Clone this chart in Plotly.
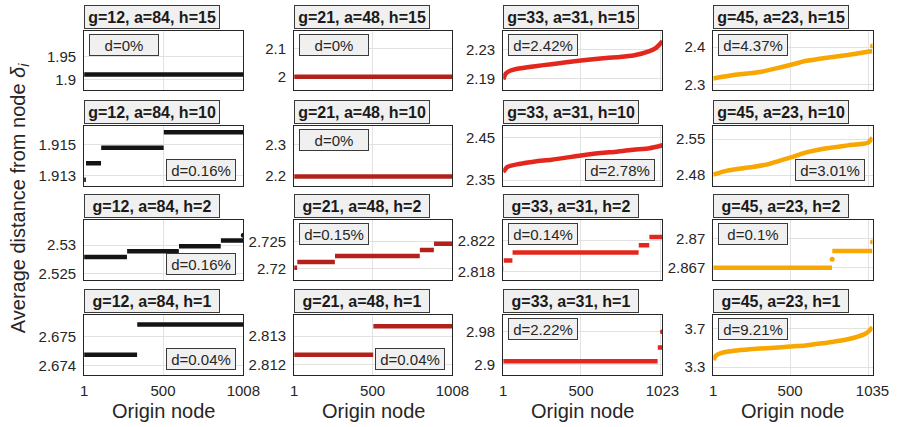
import plotly.graph_objects as go

W, H = 911, 427

# ---------------- data ----------------
col_labels = ["g=12, a=84", "g=21, a=48", "g=33, a=31", "g=45, a=23"]
h_values = [15, 10, 2, 1]
n_nodes = [1008, 1008, 1023, 1035]
x_tick_vals = [1, 500]
x_grid_extra = [1008]
colors = ["#141414", "#b2221b", "#e3271d", "#f7a700"]

d_labels = [["d=0%", "d=0%", "d=2.42%", "d=4.37%"],
            ["d=0.16%", "d=0%", "d=2.78%", "d=3.01%"],
            ["d=0.16%", "d=0.15%", "d=0.14%", "d=0.1%"],
            ["d=0.04%", "d=0.04%", "d=2.22%", "d=9.21%"]]

# y tick labels per panel (row = h, col = g)
ytick_r1 = [["1.9", "1.95"], ["2", "2.1"], ["2.19", "2.23"], ["2.3", "2.4"]]
ytick_r2 = [["1.913", "1.915"], ["2.2", "2.3"], ["2.35", "2.45"], ["2.48", "2.55"]]
ytick_r3 = [["2.525", "2.53"], ["2.72", "2.725"], ["2.818", "2.822"], ["2.867", "2.87"]]
ytick_r4 = [["2.674", "2.675"], ["2.812", "2.813"], ["2.9", "2.98"], ["3.3", "3.7"]]

# step-shaped panels: segment start node, end node, value
g12_h15_start = [1];    g12_h15_end = [1008]; g12_h15_val = [1.9107]
g12_h10_start = [1, 13, 109, 505]
g12_h10_end = [12, 108, 504, 1008]
g12_h10_val = [1.91272, 1.9138, 1.91479, 1.9158]
g12_h2_start = [1, 273, 601, 866, 1008]
g12_h2_end = [272, 600, 865, 1007, 1008]
g12_h2_val = [2.52788, 2.52894, 2.52982, 2.53082, 2.53176]
g12_h1_start = [1, 337]
g12_h1_end = [336, 1008]
g12_h1_val = [2.674375, 2.67542]

g21_h15_start = [1];    g21_h15_end = [1008]; g21_h15_val = [2.0]
g21_h10_start = [1];    g21_h10_end = [1008]; g21_h10_val = [2.197]
g21_h2_start = [1, 21, 261, 801, 891]
g21_h2_end = [20, 260, 800, 890, 1008]
g21_h2_val = [2.72018, 2.72124, 2.7223, 2.72341, 2.72453]
g21_h1_start = [1, 505]
g21_h1_end = [504, 1008]
g21_h1_val = [2.812345, 2.813345]

g33_h2_start = [1, 4, 61, 871, 939]
g33_h2_end = [3, 60, 870, 938, 1023]
g33_h2_val = [2.81842, 2.81943, 2.82045, 2.82137, 2.82242]
g33_h1_start = [1, 993, 1023]
g33_h1_end = [992, 1022, 1023]
g33_h1_val = [2.908, 2.9416, 2.98]

g45_h2_start = [1, 773, 774, 1035]
g45_h2_end = [772, 773, 1034, 1035]
g45_h2_val = [2.867, 2.86789, 2.86874, 2.86966]

# smooth panels: sampled origin node, value (sorted)
g33_h15_node = [1, 18, 49, 102, 206, 311, 500, 626, 731, 836, 940, 982, 1023]
g33_h15_val = [2.1886, 2.1969, 2.2010, 2.2038, 2.2070, 2.2098, 2.2148, 2.2176,
               2.2194, 2.2217, 2.2277, 2.2323, 2.2415]
g33_h10_node = [1, 28, 102, 206, 311, 500, 626, 731, 836, 940, 1023]
g33_h10_val = [2.369, 2.381, 2.388, 2.394, 2.398, 2.408, 2.414, 2.417, 2.4215,
               2.425, 2.432]
g45_h15_node = [1, 134, 303, 409, 500, 599, 726, 874, 1005, 1034]
g45_h15_val = [2.316, 2.325, 2.333, 2.343, 2.352, 2.3625, 2.371, 2.379, 2.3875, 2.389]
g45_h15_extra_node = [1035]
g45_h15_extra_val = [2.4027]
g45_h10_node = [1, 92, 240, 346, 430, 500, 599, 726, 874, 1005, 1035]
g45_h10_val = [2.4813, 2.489, 2.4954, 2.5005, 2.508, 2.514, 2.5238, 2.532,
               2.538, 2.543, 2.553]
g45_h1_node = [1, 18, 50, 134, 240, 346, 500, 599, 726, 789, 874, 980, 1012, 1035]
g45_h1_val = [3.375, 3.42, 3.447, 3.471, 3.488, 3.498, 3.515, 3.526, 3.553,
              3.567, 3.591, 3.642, 3.676, 3.717]

steps = {
    (0, 0): (g12_h15_start, g12_h15_end, g12_h15_val),
    (1, 0): (g12_h10_start, g12_h10_end, g12_h10_val),
    (2, 0): (g12_h2_start, g12_h2_end, g12_h2_val),
    (3, 0): (g12_h1_start, g12_h1_end, g12_h1_val),
    (0, 1): (g21_h15_start, g21_h15_end, g21_h15_val),
    (1, 1): (g21_h10_start, g21_h10_end, g21_h10_val),
    (2, 1): (g21_h2_start, g21_h2_end, g21_h2_val),
    (3, 1): (g21_h1_start, g21_h1_end, g21_h1_val),
    (2, 2): (g33_h2_start, g33_h2_end, g33_h2_val),
    (3, 2): (g33_h1_start, g33_h1_end, g33_h1_val),
    (2, 3): (g45_h2_start, g45_h2_end, g45_h2_val),
}
curves = {
    (0, 2): (g33_h15_node, g33_h15_val),
    (1, 2): (g33_h10_node, g33_h10_val),
    (0, 3): (g45_h15_node, g45_h15_val),
    (1, 3): (g45_h10_node, g45_h10_val),
    (3, 3): (g45_h1_node, g45_h1_val),
}
extra_points = {(0, 3): (g45_h15_extra_node, g45_h15_extra_val)}

# ---------------- layout geometry (pixels) ----------------
col_px = [(82, 245), (297, 459), (511, 674), (726, 889)]
row_px = [(31, 91), (127, 187), (222, 282), (317, 378)]
y_ranges = [[(1.8764, 2.005), (1.951, 2.165), (2.1735, 2.256), (2.284, 2.4437)],
            [(1.91234, 1.9162), (2.1668, 2.360), (2.337, 2.477), (2.4596, 2.5755)],
            [(2.5238, 2.5344), (2.71794, 2.7288), (2.81695, 2.82453), (2.86574, 2.87188)],
            [(2.67366, 2.67576), (2.81162, 2.81375), (2.8736, 3.0216), (3.2145, 3.847)]]
d_pos = [["tl", "tl", "tl", "tl"], ["br", "tl", "br", "br"],
         ["br", "tl", "tl", "tl"], ["br", "br", "tl", "tl"]]
ytick_rows = [ytick_r1, ytick_r2, ytick_r3, ytick_r4]

FONT = "Liberation Sans, Arial, sans-serif"
AX = "#262626"
GRID = "#e2e2e2"

fig = go.Figure()
layout = dict(width=W, height=H, margin=dict(l=0, r=0, t=0, b=0),
              paper_bgcolor="white", plot_bgcolor="white", showlegend=False,
              font=dict(family=FONT, color=AX))
annotations = []

for r in range(4):
    for c in range(4):
        k = r * 4 + c + 1
        xs = "" if k == 1 else str(k)
        xa, ya = "x" + xs, "y" + xs
        color = colors[c]
        if (r, c) in steps:
            s, e, v = steps[(r, c)]
            lx, ly, px, py = [], [], [], []
            for si, ei, vi in zip(s, e, v):
                if si == ei:
                    px.append(si); py.append(vi)
                else:
                    lx += [si, ei, None]; ly += [vi, vi, None]
            if lx:
                fig.add_trace(go.Scatter(x=lx, y=ly, mode="lines", xaxis=xa, yaxis=ya,
                                         line=dict(color=color, width=4.5), hoverinfo="skip"))
            if px:
                fig.add_trace(go.Scatter(x=px, y=py, mode="markers", xaxis=xa, yaxis=ya,
                                         marker=dict(color=color, size=5), hoverinfo="skip"))
        if (r, c) in curves:
            nx, nv = curves[(r, c)]
            fig.add_trace(go.Scatter(x=nx, y=nv, mode="lines", xaxis=xa, yaxis=ya,
                                     line=dict(color=color, width=4.5, shape="spline", smoothing=0.6),
                                     hoverinfo="skip"))
        if (r, c) in extra_points:
            nx, nv = extra_points[(r, c)]
            fig.add_trace(go.Scatter(x=nx, y=nv, mode="markers", xaxis=xa, yaxis=ya,
                                     marker=dict(color=color, size=5), hoverinfo="skip"))

        x0, x1 = col_px[c]
        y0, y1 = row_px[r]
        N = n_nodes[c]
        tv = x_tick_vals + [N]
        layout["xaxis" + xs] = dict(
            domain=[x0 / W, x1 / W], anchor=ya, range=[1, N],
            tickvals=tv, ticktext=[str(t) for t in tv], showticklabels=(r == 3),
            showgrid=True, gridcolor=GRID, gridwidth=1, zeroline=False,
            minor=dict(tickvals=x_grid_extra, showgrid=True, gridcolor=GRID, ticks=""),
            showline=True, linecolor=AX, linewidth=1, mirror=True, ticks="",
            tickfont=dict(size=15, color=AX, family=FONT), ticklabelstandoff=2,
        )
        ticks_txt = ytick_rows[r][c]
        layout["yaxis" + xs] = dict(
            domain=[1 - y1 / H, 1 - y0 / H], anchor=xa, range=list(y_ranges[r][c]),
            tickvals=[float(t) for t in ticks_txt], ticktext=ticks_txt,
            showgrid=True, gridcolor=GRID, gridwidth=1, zeroline=False,
            showline=True, linecolor=AX, linewidth=1, mirror=True, ticks="",
            tickfont=dict(size=15, color=AX, family=FONT), ticklabelstandoff=4,
        )
        # title box
        annotations.append(dict(
            text="<b>%s, h=%d</b>" % (col_labels[c], h_values[r]),
            xref=xa + " domain", yref=ya + " domain", x=0, y=1, xanchor="left",
            yanchor="bottom", yshift=2, showarrow=False, align="center",
            font=dict(size=16, color="#1a1a1a", family=FONT),
            bgcolor="#f0f0f0", bordercolor="#3a3a3a", borderwidth=1, borderpad=1,
            width=132, height=20))
        # d box
        pos = d_pos[r][c]
        if pos == "tl":
            ax_, xan, ay_, yan = 5 / (x1 - x0), "left", 1 - 3 / (y1 - y0), "top"
        else:
            ax_, xan, ay_, yan = 1 - 8 / (x1 - x0), "right", 5 / (y1 - y0), "bottom"
        annotations.append(dict(
            text=d_labels[r][c], xref=xa + " domain", yref=ya + " domain",
            x=ax_, y=ay_, xanchor=xan, yanchor=yan, showarrow=False, align="center",
            font=dict(size=15, color=AX, family=FONT),
            bgcolor="#f0f0f0", bordercolor="#3a3a3a", borderwidth=1, borderpad=1,
            width=66, height=18))

for c in range(4):
    x0, x1 = col_px[c]
    annotations.append(dict(text="Origin node", xref="paper", yref="paper",
                            x=(x0 + x1) / 2 / W, y=1 - 414 / H, xanchor="center", yanchor="middle",
                            showarrow=False, font=dict(size=20, color=AX, family=FONT)))
annotations.append(dict(text="Average distance from node <i>δ<sub>i</sub></i>",
                        xref="paper", yref="paper", x=16 / W, y=1 - 200 / H,
                        xanchor="center", yanchor="middle", textangle=-90, showarrow=False,
                        font=dict(size=20, color=AX, family=FONT)))
layout["annotations"] = annotations
fig.update_layout(**layout)
fig.write_html("out.html", config={"displayModeBar": False},
               post_script="document.body.style.margin='0';document.body.style.padding='0';")
